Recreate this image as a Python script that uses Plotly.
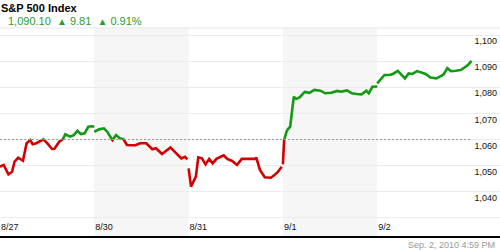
import plotly.graph_objects as go

# ---------------- data ----------------
day_labels = ["8/27", "8/30", "8/31", "9/1", "9/2"]
session_minutes = 390
ref_level = 1060.0

day0_minutes = [0, 15, 35, 50, 60, 75, 95, 110, 125, 135, 150, 170, 180, 195, 215, 225, 245, 260, 270, 290, 305, 320, 335, 350, 365, 380, 390]
day0_values = [1049.6, 1050.3, 1046.7, 1047.7, 1051.5, 1053.1, 1051.9, 1058.6, 1059.8, 1058.2, 1058.6, 1059.6, 1060.1, 1058.6, 1056.4, 1056.5, 1059.2, 1060.2, 1062.0, 1061.1, 1061.7, 1063.3, 1062.1, 1062.4, 1064.9, 1065.1, 1064.9]

day1_minutes = [0, 20, 40, 55, 75, 90, 105, 120, 135, 150, 170, 190, 215, 240, 255, 280, 300, 315, 335, 360, 375, 385]
day1_values = [1063.0, 1063.9, 1064.3, 1062.8, 1059.8, 1061.7, 1060.5, 1060.2, 1057.9, 1057.8, 1057.8, 1058.6, 1058.6, 1056.3, 1056.7, 1054.5, 1056.0, 1057.0, 1055.1, 1052.8, 1053.4, 1052.4]

day2_minutes = [0, 10, 30, 40, 55, 70, 85, 100, 115, 135, 145, 160, 180, 200, 220, 250, 275, 280, 295, 315, 340, 355, 370, 385]
day2_values = [1049.0, 1042.0, 1045.8, 1053.2, 1052.8, 1050.5, 1052.6, 1050.9, 1052.6, 1053.7, 1054.0, 1052.6, 1051.8, 1050.3, 1052.6, 1052.6, 1052.6, 1053.1, 1048.4, 1045.6, 1045.4, 1046.4, 1047.7, 1049.6]

day3_minutes = [0, 5, 15, 20, 30, 45, 55, 70, 90, 110, 130, 155, 175, 200, 225, 240, 265, 285, 305, 325, 345, 355, 370, 385, 390]
day3_values = [1050.5, 1059.8, 1063.0, 1063.9, 1064.9, 1076.4, 1075.5, 1076.2, 1078.2, 1077.9, 1079.0, 1078.7, 1077.7, 1077.9, 1078.6, 1078.3, 1078.8, 1077.7, 1077.4, 1077.3, 1078.7, 1077.7, 1080.2, 1080.2, 1080.3]

day4_minutes = [0, 15, 30, 50, 65, 85, 100, 115, 130, 145, 165, 180, 200, 220, 245, 265, 275, 290, 305, 325, 345, 360, 375, 390]
day4_values = [1081.5, 1083.0, 1084.7, 1084.7, 1085.1, 1086.3, 1084.7, 1083.4, 1085.3, 1085.1, 1086.2, 1085.6, 1085.1, 1083.7, 1083.4, 1084.4, 1085.0, 1087.3, 1086.2, 1086.3, 1086.6, 1087.5, 1088.5, 1090.1]

y_tick_values = [1030, 1040, 1050, 1060, 1070, 1080, 1090, 1100]
y_tick_labels = ["", "1,040", "1,050", "1,060", "1,070", "1,080", "1,090", "1,100"]

title_text = "S&P 500 Index"
last_price = "1,090.10"
net_change = "9.81"
pct_change = "0.91%"
timestamp = "Sep. 2, 2010 4:59 PM"

# ---------------- build ----------------
all_minutes = [day0_minutes, day1_minutes, day2_minutes, day3_minutes, day4_minutes]
all_values = [day0_values, day1_values, day2_values, day3_values, day4_values]
xs, ys = [], []
for d, (mins, vals) in enumerate(zip(all_minutes, all_values)):
    xs += [d + m / session_minutes for m in mins] + [None]
    ys += list(vals) + [None]

Y_MIN, Y_MAX = 1023.1, 1102.68
X_MAX = 5.302
f = (ref_level - Y_MIN) / (Y_MAX - Y_MIN)

RED = "#d20000"
GREEN = "#129a12"
FONT = "Liberation Sans, Arial, sans-serif"
CLEAR = "rgba(0,0,0,0)"

fig = go.Figure()
# invisible trace so the main x/y subplot (grid, ticks, bands) is built
fig.add_trace(go.Scatter(x=xs, y=ys, mode="lines", xaxis="x", yaxis="y",
                         line=dict(color=CLEAR, width=0), hoverinfo="skip", showlegend=False))
# green part: clipped to the region above the reference level
fig.add_trace(go.Scatter(x=xs, y=ys, mode="lines", xaxis="x", yaxis="y2",
                         line=dict(color=GREEN, width=2.6), connectgaps=False,
                         hoverinfo="skip", showlegend=False))
# red part: clipped to the region below the reference level
fig.add_trace(go.Scatter(x=xs, y=ys, mode="lines", xaxis="x", yaxis="y3",
                         line=dict(color=RED, width=2.6), connectgaps=False,
                         hoverinfo="skip", showlegend=False))

shapes = []
for d in (1, 3):
    shapes.append(dict(type="rect", xref="x", yref="paper", x0=d, x1=d + 1, y0=0, y1=1,
                       fillcolor="#f6f6f6", line=dict(width=0), layer="below"))
shapes.append(dict(type="line", xref="x", yref="y", x0=0, x1=len(day_labels), y0=ref_level, y1=ref_level,
                   line=dict(color="#9a9a9a", width=1, dash="2px,2px"), layer="above"))
shapes.append(dict(type="line", xref="paper", yref="paper", x0=0, x1=1, y0=1, y1=1,
                   line=dict(color="#e6e6e6", width=1), layer="above"))

fig.update_layout(
    width=500, height=250, autosize=False,
    margin=dict(l=0, r=0, t=28, b=14, pad=0),
    paper_bgcolor="white", plot_bgcolor=CLEAR,
    font=dict(family=FONT, size=9, color="#111"),
    title=dict(text="<b>" + title_text + "</b>", x=0.002, xanchor="left", xref="container",
               y=1 - 8 / 250, yanchor="middle", yref="container",
               font=dict(family=FONT, size=11, color="#000")),
    xaxis=dict(range=[0, X_MAX], tickvals=list(range(len(day_labels))), ticktext=day_labels,
               showgrid=False, zeroline=False, showline=True, linecolor="#000", linewidth=2,
               ticks="", ticklabelposition="inside right", tickfont=dict(size=9, color="#111"),
               fixedrange=True),
    yaxis=dict(range=[Y_MIN, Y_MAX], domain=[0, 1], side="right", tickvals=y_tick_values,
               ticktext=y_tick_labels, showgrid=True, gridcolor="#ececec", gridwidth=1,
               zeroline=False, showline=False, ticks="", ticklabelposition="inside",
               ticklabelshift=6, tickfont=dict(size=9, color="#111"), fixedrange=True),
    yaxis2=dict(range=[ref_level, Y_MAX], domain=[f, 1], anchor="x", visible=False, fixedrange=True),
    yaxis3=dict(range=[Y_MIN, ref_level], domain=[0, f], anchor="x", visible=False, fixedrange=True),
    shapes=shapes,
    showlegend=False,
)

tri = "<span style='font-size:10px'>\u25B2</span>"
fig.add_annotation(xref="paper", yref="paper", x=6 / 500, y=(236 - 21) / 208, xanchor="left", yanchor="middle",
                   text=f"{last_price}&nbsp;&nbsp;{tri}&nbsp;{net_change}&nbsp;&nbsp;{tri}&nbsp;{pct_change}",
                   showarrow=False, font=dict(family=FONT, size=11, color="#2a9e2a"))
fig.add_annotation(xref="paper", yref="paper", x=497 / 500, y=(236 - 245) / 208, xanchor="right", yanchor="middle",
                   text=timestamp, showarrow=False, font=dict(family=FONT, size=9, color="#999"))

fig.write_html("out.html")
